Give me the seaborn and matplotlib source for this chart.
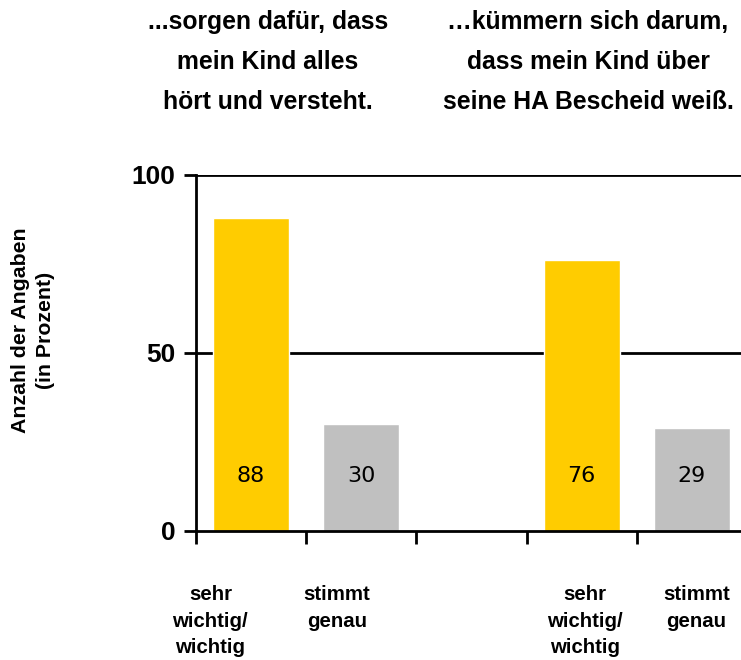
import matplotlib
matplotlib.use("Agg")
import matplotlib.pyplot as plt
import seaborn as sns
import pandas as pd
import numpy as np

# Daten
kategorien = ["k1_wichtig", "k1_genau", "leer", "k2_wichtig", "k2_genau"]
werte = [88, 30, np.nan, 76, 29]
farben = ["#FFCC00", "#C0C0C0", "#FFFFFF", "#FFCC00", "#C0C0C0"]
x_labels = ["sehr\nwichtig/\nwichtig", "stimmt\ngenau", "", "sehr\nwichtig/\nwichtig", "stimmt\ngenau"]
titel = ["...sorgen dafür, dass\nmein Kind alles\nhört und versteht.",
         "\u2026kümmern sich darum,\ndass mein Kind über\nseine HA Bescheid weiß."]

df = pd.DataFrame({"kategorie": kategorien, "wert": werte})

sns.set_style("white")
plt.rcParams["font.family"] = ["Liberation Sans", "DejaVu Sans"]
plt.rcParams["text.color"] = "black"
plt.rcParams["axes.labelcolor"] = "black"
plt.rcParams["xtick.color"] = "black"
plt.rcParams["ytick.color"] = "black"

fig = plt.figure(figsize=(7.41, 6.6), dpi=100)
ax = fig.add_axes([196 / 741, 129 / 660, 551 / 741, 356 / 660])

sns.barplot(data=df, x="kategorie", y="wert", hue="kategorie", order=kategorien,
            palette=farben, legend=False, width=0.69, saturation=1, ax=ax)

ax.set_xlim(-0.5, 4.5)
ax.set_ylim(0, 100)
ax.set_yticks([0, 50, 100])
ax.set_yticklabels(["0", "50", "100"], fontsize=19, fontweight="bold")
for y in [50, 100]:
    ax.axhline(y, color="black", lw=2, zorder=0)

ax.set_xticks([])
ax.set_xticks(np.arange(-0.5, 4.0, 1.0), minor=True)
ax.tick_params(axis="x", which="minor", length=9, width=2, direction="out", color="black", bottom=True)
ax.tick_params(axis="y", length=9, width=2, direction="out", color="black", left=True, pad=6)
ax.set_xlabel("")
ax.set_ylabel("")

for side in ["top", "right"]:
    ax.spines[side].set_visible(False)
for side in ["left", "bottom"]:
    ax.spines[side].set_color("black")
    ax.spines[side].set_linewidth(2)

# y-Achsentitel
fig.text(33 / 741, 1 - 330 / 660, "Anzahl der Angaben\n(in Prozent)", rotation=90,
         ha="center", va="center", multialignment="center", fontsize=15.3,
         fontweight="bold", linespacing=1.4)

# Werte in den Balken
for i, v in enumerate(werte):
    if not np.isnan(v):
        ax.text(i, 15.5, f"{v:.0f}", ha="center", va="center", fontsize=16,
                family="DejaVu Sans", color="black")

# Achsenbeschriftungen unter den Balken
x_offsets = [-0.37, -0.22, 0, 0.03, 0.04]
for i, lab in enumerate(x_labels):
    if lab:
        ax.text(i + x_offsets[i], -15.2, lab, ha="center", va="top", fontsize=14.7,
                fontweight="bold", linespacing=1.5, clip_on=False)

# Gruppentitel
fig.text(268 / 741, 1 - 10 / 660, titel[0], ha="center", va="top", fontsize=17.8,
         fontweight="bold", linespacing=1.85)
fig.text(588 / 741, 1 - 10 / 660, titel[1], ha="center", va="top", fontsize=17.8,
         fontweight="bold", linespacing=1.85)

plt.savefig("out.png", dpi=100)
